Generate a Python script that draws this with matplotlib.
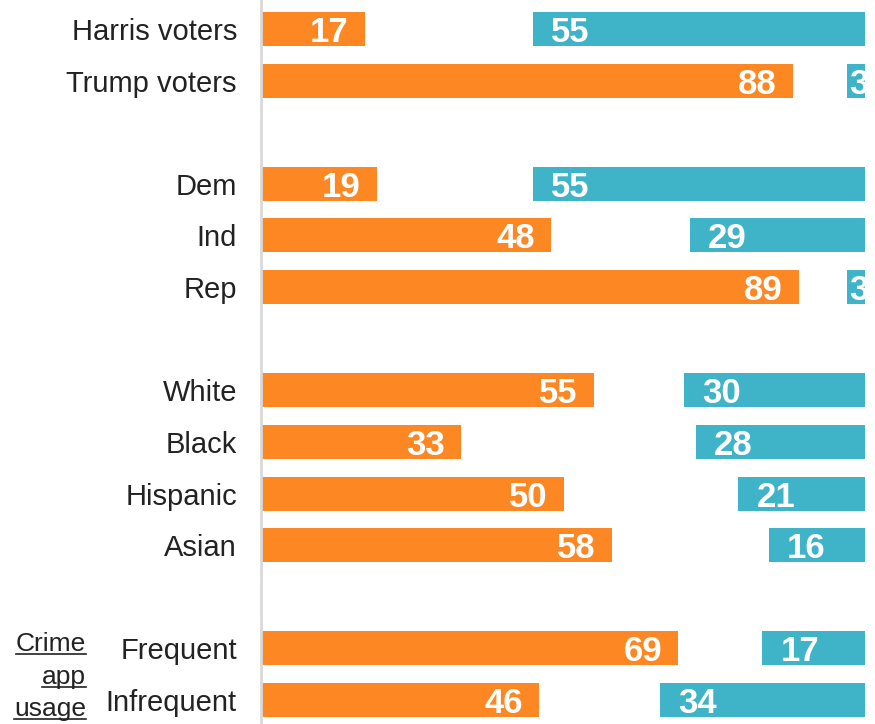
import numpy as np
import matplotlib.pyplot as plt
from matplotlib.lines import Line2D

plt.rcParams['font.family'] = ['Liberation Sans', 'DejaVu Sans']

# chart data
groups = ['Harris voters', 'Trump voters', 'Dem', 'Ind', 'Rep',
          'White', 'Black', 'Hispanic', 'Asian', 'Frequent', 'Infrequent']
rows = [0, 1, 3, 4, 5, 7, 8, 9, 10, 12, 13]  # blank rows separate the blocks
orange_vals = [17, 88, 19, 48, 89, 55, 33, 50, 58, 69, 46]
blue_vals = [55, 3, 55, 29, 3, 30, 28, 21, 16, 17, 34]

ORANGE = '#FD8823'
BLUE = '#3FB3C7'
TXT = '#222222'

W, H = 875, 724
fig = plt.figure(figsize=(W / 100, H / 100), dpi=100)
ax = fig.add_axes([262 / W, 0, 603 / W, 1])

bar_h = 0.66
ax.barh(rows, orange_vals, height=bar_h, color=ORANGE)
ax.barh(rows, blue_vals, left=[100 - v for v in blue_vals], height=bar_h, color=BLUE)

ax.set_xlim(0, 100)
ax.set_ylim(13.465, -0.562)

for s in ['top', 'right', 'bottom']:
    ax.spines[s].set_visible(False)
ax.spines['left'].set_position(('outward', 1))
ax.spines['left'].set_color('#d9d9d9')
ax.spines['left'].set_linewidth(2)

# value labels (offsets in points)
for r, o, b in zip(rows, orange_vals, blue_vals):
    ax.annotate(str(o), (o, r), xytext=(-11.5, 0), textcoords='offset points',
                ha='right', va='center_baseline', color='white',
                fontsize=25, fontweight='bold')
    off = 13 if b > 5 else 1.5
    t = ax.annotate(str(b), (100 - b, r), xytext=(off, 0), textcoords='offset points',
                    ha='left', va='center_baseline', color='white',
                    fontsize=25, fontweight='bold', annotation_clip=False)
    t.set_clip_on(True)

ax.set_yticks(rows)
ax.set_yticklabels(groups)
ax.tick_params(axis='y', length=0, pad=17, labelsize=21, labelcolor=TXT)
ax.set_xticks([])

# underlined side note for the last block
note = []
for word, ypx in [('Crime', 651), ('app', 684), ('usage', 716)]:
    note.append(fig.text(86 / W, 1 - ypx / H, word, ha='right', va='baseline',
                         fontsize=19, color=TXT))
fig.canvas.draw()
for t in note:
    bb = t.get_window_extent()
    base = t.get_position()[1] - 2.5 / H
    fig.add_artist(Line2D([bb.x0 / W, bb.x1 / W], [base, base],
                          color=TXT, linewidth=1.2))

fig.savefig('out.png', dpi=100)
